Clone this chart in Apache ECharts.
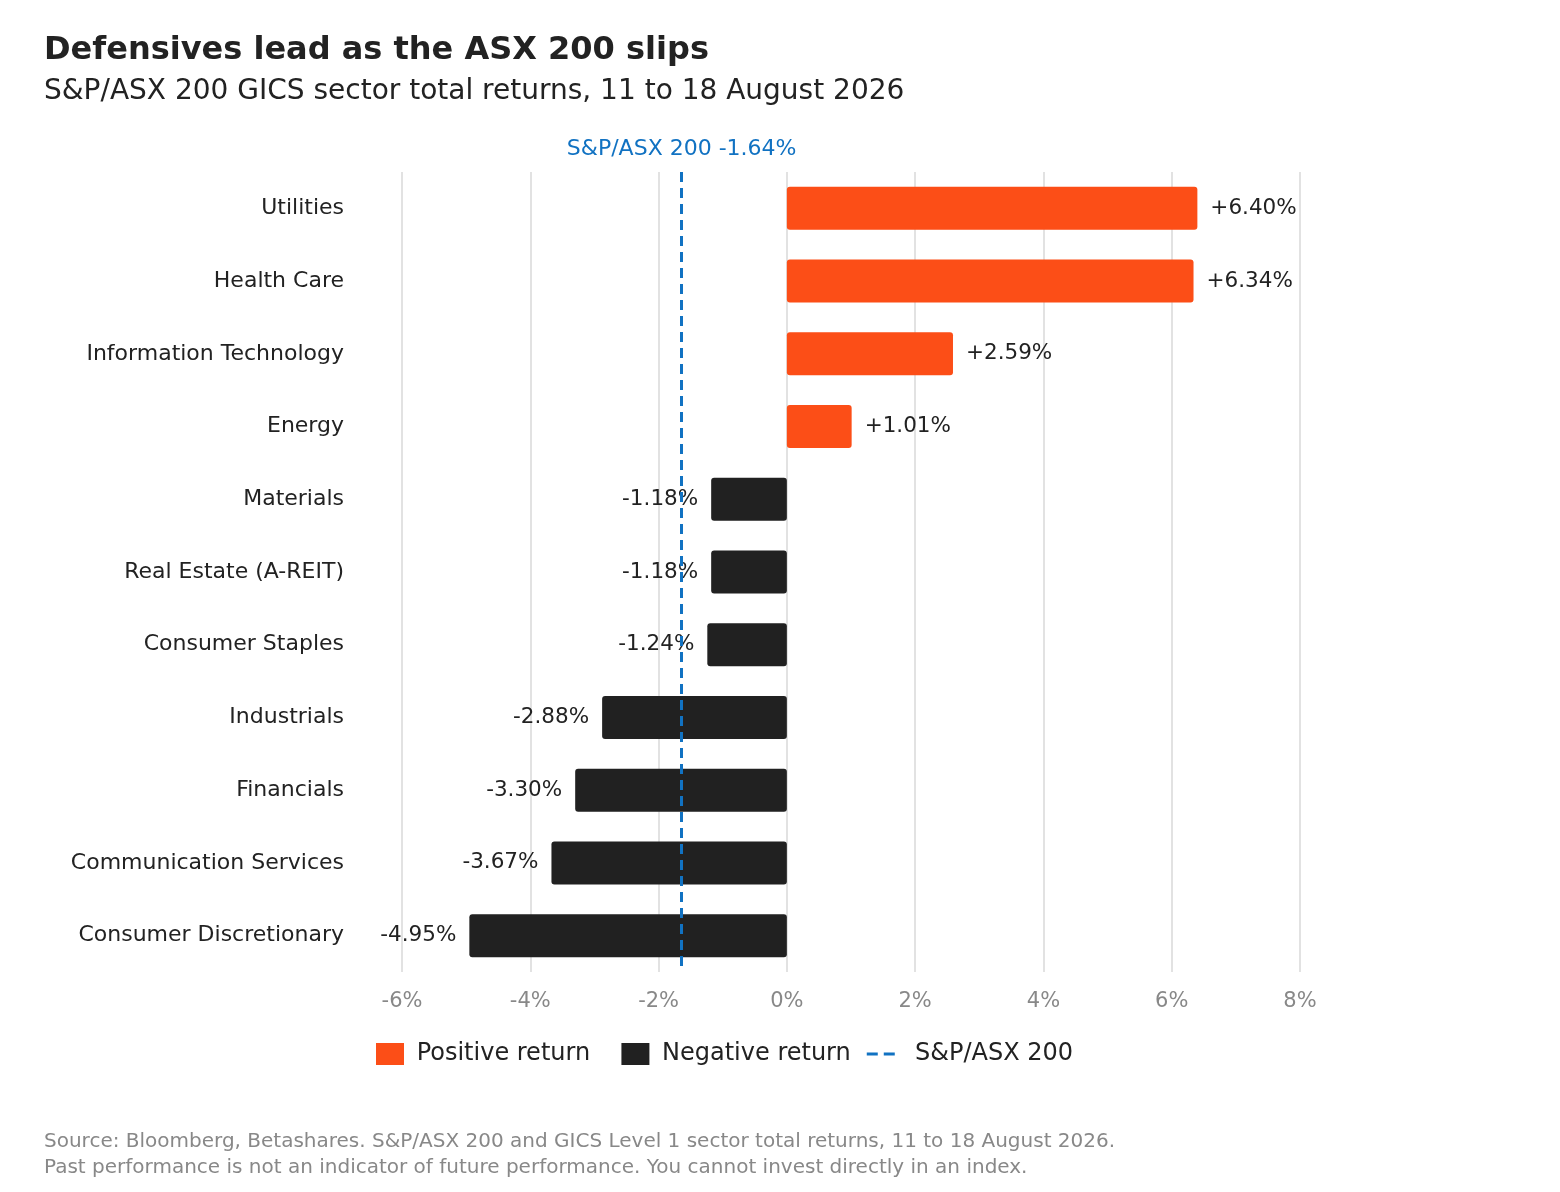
<!DOCTYPE html>
<html>
<head>
<meta charset="utf-8">
<script src="https://cdn.jsdelivr.net/npm/echarts@6/dist/echarts.min.js"></script>
<style>
  html, body { margin: 0; padding: 0; background: #fff; }
  #chart { width: 1560px; height: 1192px; }
</style>
</head>
<body>
<div id="chart"></div>
<script>
// 板块（自上而下）与一周总回报（%）
const sectors = [
  'Utilities', 'Health Care', 'Information Technology', 'Energy', 'Materials',
  'Real Estate (A-REIT)', 'Consumer Staples', 'Industrials', 'Financials',
  'Communication Services', 'Consumer Discretionary'
];
const returns = [6.40, 6.34, 2.59, 1.01, -1.18, -1.18, -1.24, -2.88, -3.30, -3.67, -4.95];
const indexReturn = -1.64;
const xTicks = [-6, 8, 2];   // min, max, interval

const POS = '#fc4e17';
const NEG = '#212121';
const BLUE = '#1172c2';
const FONT = 'DejaVu Sans';

const fmt = v => (v > 0 ? '+' : '') + v.toFixed(2) + '%';

// 图例里的虚线图标（上下两个 M 点撑满图标框，保持虚线细）
const dashIcon = 'path://M0,0 M0,22 M0,9.5h11v3h-11z M17,9.5h11v3h-11z';

const chart = echarts.init(document.getElementById('chart'));

chart.setOption({
  backgroundColor: '#fff',
  textStyle: { fontFamily: FONT },
  title: [{
    text: 'Defensives lead as the ASX 200 slips',
    left: 44, top: 35, padding: 0,
    textStyle: { fontFamily: FONT, fontSize: 32, fontWeight: 'bold', color: '#222' }
  }, {
    text: 'S&P/ASX 200 GICS sector total returns, 11 to 18 August 2026',
    left: 44, top: 78, padding: 0,
    textStyle: { fontFamily: FONT, fontSize: 28, fontWeight: 'normal', color: '#222' }
  }, {
    text: 'Source: Bloomberg, Betashares. S&P/ASX 200 and GICS Level 1 sector total returns, 11 to 18 August 2026.\nPast performance is not an indicator of future performance. You cannot invest directly in an index.',
    left: 44, top: 1129, padding: 0,
    textStyle: { fontFamily: FONT, fontSize: 20, fontWeight: 'normal', color: '#888', lineHeight: 26 }
  }],
  legend: {
    left: 376, top: 1042, padding: 0,
    itemWidth: 28, itemHeight: 22, itemGap: 16,
    textStyle: { fontFamily: FONT, fontSize: 24, color: '#222' },
    formatter: name => name === 'Positive return' ? ' ' + name + '  '
      : name === 'Negative return' ? ' ' + name : '  ' + name,
    data: [
      { name: 'Positive return', icon: 'rect' },
      { name: 'Negative return', icon: 'rect' },
      { name: 'S&P/ASX 200', icon: dashIcon, itemStyle: { color: BLUE } }
    ]
  },
  grid: { left: 402, right: 260, top: 172, height: 800, containLabel: false },
  xAxis: {
    type: 'value',
    min: xTicks[0], max: xTicks[1], interval: xTicks[2],
    axisLine: { show: false },
    axisTick: { show: false },
    axisLabel: { formatter: '{value}%', color: '#888', fontSize: 21, margin: 19, fontFamily: FONT },
    splitLine: { lineStyle: { color: '#e2e2e2', width: 2 } }
  },
  yAxis: {
    type: 'category',
    data: sectors,
    inverse: true,
    axisLine: { show: false },
    axisTick: { show: false },
    axisLabel: { color: '#222', fontSize: 22, margin: 58, fontFamily: FONT }
  },
  series: [{
    name: 'Positive return',
    type: 'bar',
    stack: 'r',
    barWidth: 43,
    itemStyle: { color: POS, borderRadius: 3 },
    label: {
      show: true, position: 'right', distance: 13,
      color: '#222', fontSize: 21.5, fontFamily: FONT,
      formatter: p => fmt(p.value)
    },
    data: returns.map(v => v > 0 ? v : '-')
  }, {
    name: 'Negative return',
    type: 'bar',
    stack: 'r',
    barWidth: 43,
    itemStyle: { color: NEG, borderRadius: 3 },
    label: {
      show: true, position: 'left', distance: 13,
      color: '#222', fontSize: 21.5, fontFamily: FONT,
      formatter: p => fmt(p.value)
    },
    data: returns.map(v => v < 0 ? v : '-')
  }, {
    name: 'S&P/ASX 200',
    type: 'line',
    symbol: 'none',
    lineStyle: { color: BLUE, type: 'dashed', width: 3 },
    itemStyle: { color: BLUE },
    data: [],
    z: 5,
    markLine: {
      silent: true,
      symbol: 'none',
      lineStyle: { color: BLUE, type: [10, 6], width: 3 },
      label: {
        show: true, position: 'start', distance: 12,
        formatter: 'S&P/ASX 200 ' + indexReturn.toFixed(2) + '%',
        color: BLUE, fontSize: 22, fontFamily: FONT
      },
      data: [{ xAxis: indexReturn }]
    }
  }]
});
</script>
</body>
</html>
